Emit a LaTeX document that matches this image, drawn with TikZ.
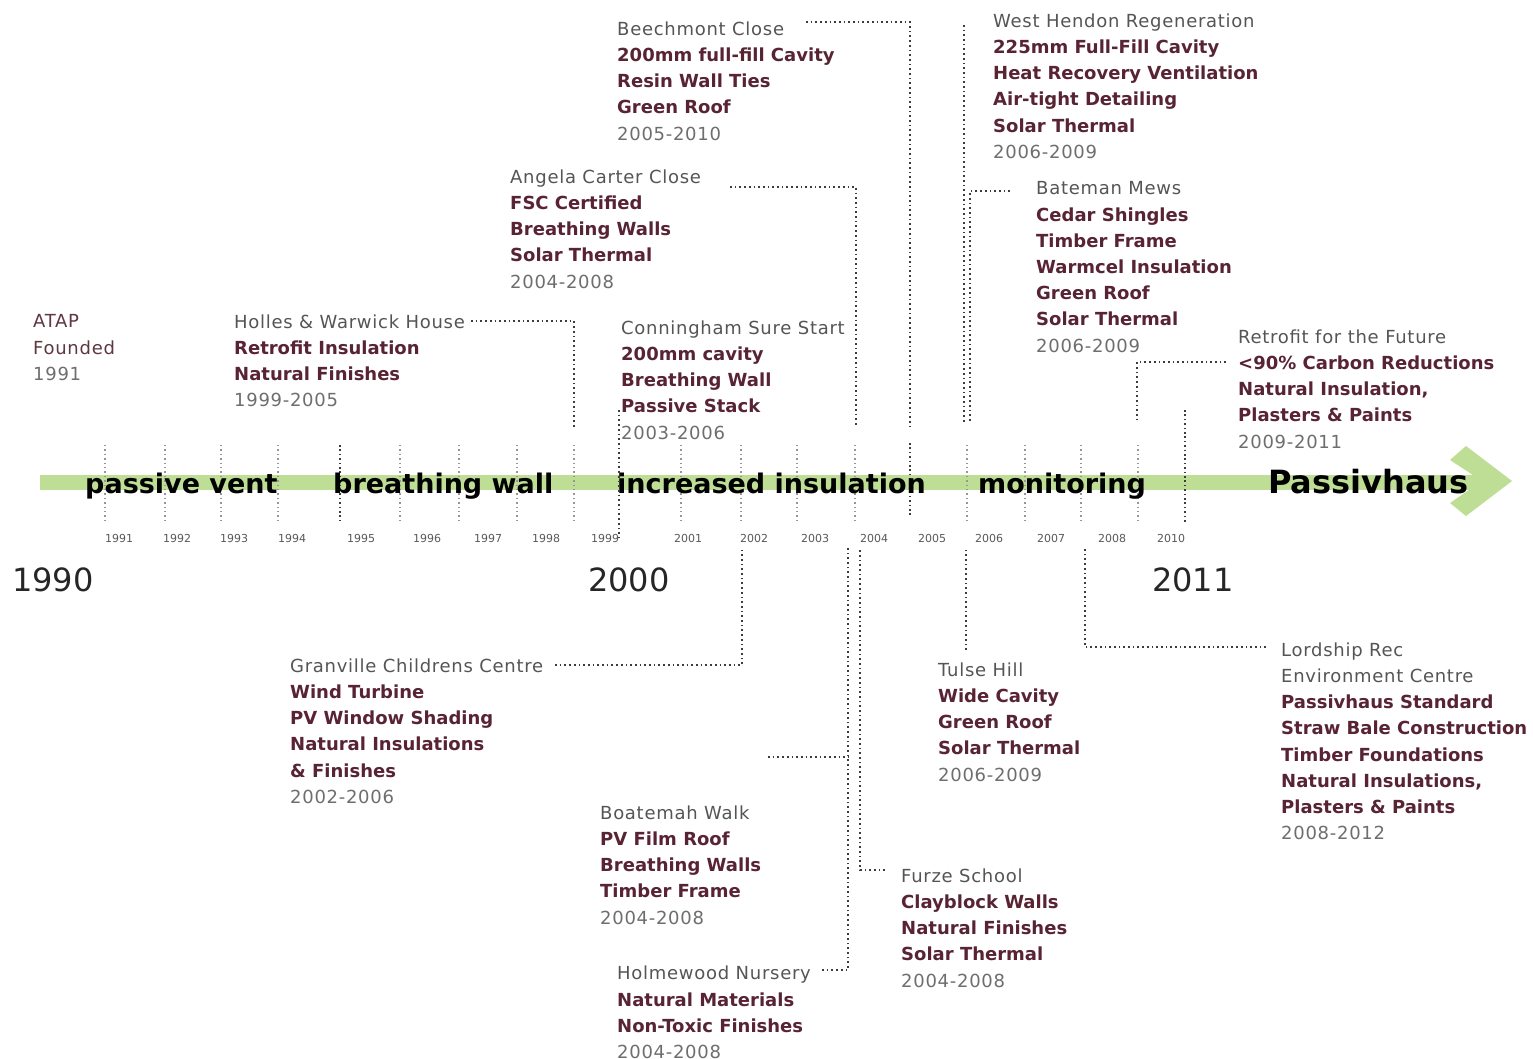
\documentclass[tikz,border=0pt]{standalone}
\usepackage{fontspec}
\setmainfont{DejaVu Sans}
\newfontfamily\rgfont[LetterSpace=4]{DejaVu Sans}
\definecolor{barg}{RGB}{190,222,150}
\definecolor{boldc}{RGB}{88,36,52}
\definecolor{titlec}{RGB}{85,85,85}
\definecolor{yearc}{RGB}{110,110,110}
\definecolor{atapc}{RGB}{95,55,65}
\definecolor{connc}{RGB}{60,60,60}
\definecolor{tickc}{RGB}{150,150,150}
\newcommand\tline[1]{{\rgfont\color{titlec}#1}}
\newcommand\aline[1]{{\rgfont\color{atapc}#1}}
\newcommand\bline[1]{{\bfseries\color{boldc}#1}}
\newcommand\yline[1]{{\rgfont\color{yearc}#1}}
\newcommand\fstrut{\rule{0pt}{13pt}}
\begin{document}
\begin{tikzpicture}[x=1pt,y=-1pt,
  blk/.style={anchor=north west, inner sep=0pt, align=left, font=\fontsize{18}{26.2}\selectfont},
  conn/.style={draw=connc, line width=1.7pt, dash pattern=on 1.7pt off 3pt},
  tickl/.style={draw=tickc, line width=1.4pt, dash pattern=on 1.4pt off 3pt},
  tickd/.style={draw=connc, line width=1.6pt, dash pattern=on 1.6pt off 2.8pt},
  phase/.style={anchor=base west, inner sep=0pt, font=\fontsize{27}{30}\selectfont\bfseries, text=black},
  tlab/.style={anchor=base west, inner sep=0pt, font=\fontsize{11}{12}\selectfont, text=black!65},
  bigyear/.style={anchor=base west, inner sep=0pt, font=\fontsize{32}{36}\selectfont, text=black!85}]
\useasboundingbox (0,0) rectangle (1533,1059);
\fill[white] (0,0) rectangle (1533,1059);

% green timeline arrow
\fill[barg] (40,475) rectangle (1482,490);
\fill[barg] (1450,460) -- (1466,446) -- (1512,481) -- (1466,516) -- (1450,503) -- (1482,481) -- cycle;

% ticks
\foreach \x in {105,165,221,278,400,459,517,574,681,741,797,855,967,1025,1081,1138}
  \draw[tickl] (\x,445) -- (\x,520);
\draw[tickd] (340,445) -- (340,520);
\draw[tickd] (910,443) -- (910,515);
\draw[tickd] (1185,410) -- (1185,522);

% tick labels
\node[tlab] (t1991) at (105,542) {1991};
\node[tlab] (t1992) at (163,542) {1992};
\node[tlab] (t1993) at (220,542) {1993};
\node[tlab] (t1994) at (278,542) {1994};
\node[tlab] (t1995) at (347,542) {1995};
\node[tlab] (t1996) at (413,542) {1996};
\node[tlab] (t1997) at (474,542) {1997};
\node[tlab] (t1998) at (532,542) {1998};
\node[tlab] (t1999) at (591,542) {1999};
\node[tlab] (t2001) at (674,542) {2001};
\node[tlab] (t2002) at (740,542) {2002};
\node[tlab] (t2003) at (801,542) {2003};
\node[tlab] (t2004) at (860,542) {2004};
\node[tlab] (t2005) at (918,542) {2005};
\node[tlab] (t2006) at (975,542) {2006};
\node[tlab] (t2007) at (1037,542) {2007};
\node[tlab] (t2008) at (1098,542) {2008};
\node[tlab] (t2010) at (1157,542) {2010};

% big years
\node[bigyear] (y1990) at (12,591) {1990};
\node[bigyear] (y2000) at (588,591) {2000};
\node[bigyear] (y2011) at (1152,591) {2011};

% phase labels
\node[phase] (p1) at (85,493) {passive vent};
\node[phase] (p2) at (333,493) {breathing wall};
\node[phase] (p3) at (617,493) {increased insulation};
\node[phase] (p4) at (978,493) {monitoring};
\node[phase, font=\fontsize{32}{34}\selectfont\bfseries] (p5) at (1268,493) {Passivhaus};

% upper blocks
\node[blk] (atap) at (33,314.5) {\fstrut\aline{ATAP}\\ \aline{Founded}\\ \yline{1991}};
\node[blk] (holles) at (234,314.5) {\fstrut\tline{Holles \& Warwick House}\\ \bline{Retrofit Insulation}\\ \bline{Natural Finishes}\\ \yline{1999-2005}};
\node[blk] (angela) at (510,169.5) {\fstrut\tline{Angela Carter Close}\\ \bline{FSC Certified}\\ \bline{Breathing Walls}\\ \bline{Solar Thermal}\\ \yline{2004-2008}};
\node[blk] (beech) at (617,21.5) {\fstrut\tline{Beechmont Close}\\ \bline{200mm full-fill Cavity}\\ \bline{Resin Wall Ties}\\ \bline{Green Roof}\\ \yline{2005-2010}};
\node[blk] (conn) at (621,320.5) {\fstrut\tline{Conningham Sure Start}\\ \bline{200mm cavity}\\ \bline{Breathing Wall}\\ \bline{Passive Stack}\\ \yline{2003-2006}};
\node[blk] (hendon) at (993,13.5) {\fstrut\tline{West Hendon Regeneration}\\ \bline{225mm Full-Fill Cavity}\\ \bline{Heat Recovery Ventilation}\\ \bline{Air-tight Detailing}\\ \bline{Solar Thermal}\\ \yline{2006-2009}};
\node[blk] (bateman) at (1036,181.5) {\fstrut\tline{Bateman Mews}\\ \bline{Cedar Shingles}\\ \bline{Timber Frame}\\ \bline{Warmcel Insulation}\\ \bline{Green Roof}\\ \bline{Solar Thermal}\\ \yline{2006-2009}};
\node[blk] (retro) at (1238,329.5) {\fstrut\tline{Retrofit for the Future}\\ \bline{<90\% Carbon Reductions}\\ \bline{Natural Insulation,}\\ \bline{Plasters \& Paints}\\ \yline{2009-2011}};

% lower blocks
\node[blk] (gran) at (290,658.5) {\fstrut\tline{Granville Childrens Centre}\\ \bline{Wind Turbine}\\ \bline{PV Window Shading}\\ \bline{Natural Insulations}\\ \bline{\& Finishes}\\ \yline{2002-2006}};
\node[blk] (boat) at (600,805.5) {\fstrut\tline{Boatemah Walk}\\ \bline{PV Film Roof}\\ \bline{Breathing Walls}\\ \bline{Timber Frame}\\ \yline{2004-2008}};
\node[blk] (holme) at (617,966) {\fstrut\tline{Holmewood Nursery}\\ \bline{Natural Materials}\\ \bline{Non-Toxic Finishes}\\ \yline{2004-2008}};
\node[blk] (furze) at (901,868.5) {\fstrut\tline{Furze School}\\ \bline{Clayblock Walls}\\ \bline{Natural Finishes}\\ \bline{Solar Thermal}\\ \yline{2004-2008}};
\node[blk] (tulse) at (938,662.5) {\fstrut\tline{Tulse Hill}\\ \bline{Wide Cavity}\\ \bline{Green Roof}\\ \bline{Solar Thermal}\\ \yline{2006-2009}};
\node[blk] (lord) at (1281,642.5) {\fstrut\tline{Lordship Rec}\\ \tline{Environment Centre}\\ \bline{Passivhaus Standard}\\ \bline{Straw Bale Construction}\\ \bline{Timber Foundations}\\ \bline{Natural Insulations,}\\ \bline{Plasters \& Paints}\\ \yline{2008-2012}};

% connector end points
\coordinate (hwA) at (471,321);   \coordinate (hwB) at (574,428);
\coordinate (acA) at (730,187);   \coordinate (acB) at (856,425);
\coordinate (bcA) at (806,22);    \coordinate (bcB) at (910,428);
\coordinate (csA) at (619,410);   \coordinate (csB) at (619,537);
\coordinate (whA) at (964,25);    \coordinate (whB) at (964,422);
\coordinate (bmA) at (1010,191);  \coordinate (bmB) at (970,422);
\coordinate (rfA) at (1226,362);  \coordinate (rfB) at (1137,422);
\coordinate (gcA) at (555,665);   \coordinate (gcB) at (742,548);
\coordinate (bwA) at (768,757);   \coordinate (bwB) at (848,757);
\coordinate (hnA) at (822,970);   \coordinate (hnB) at (848,548);
\coordinate (fsA) at (885,870);   \coordinate (fsB) at (860,548);
\coordinate (thA) at (966,650);   \coordinate (thB) at (966,550);
\coordinate (lrA) at (1266,647);  \coordinate (lrB) at (1085,548);

% connectors
\draw[conn] (hwA) -| (hwB);
\draw[conn] (acA) -| (acB);
\draw[conn] (bcA) -| (bcB);
\draw[conn] (csA) -- (csB);
\draw[conn] (whA) -- (whB);
\draw[conn] (bmA) -| (bmB);
\draw[conn] (rfA) -| (rfB);
\draw[conn] (gcA) -| (gcB);
\draw[conn] (bwA) -- (bwB);
\draw[conn] (hnA) -| (hnB);
\draw[conn] (fsA) -| (fsB);
\draw[conn] (thA) -- (thB);
\draw[conn] (lrA) -| (lrB);
\end{tikzpicture}
\end{document}
